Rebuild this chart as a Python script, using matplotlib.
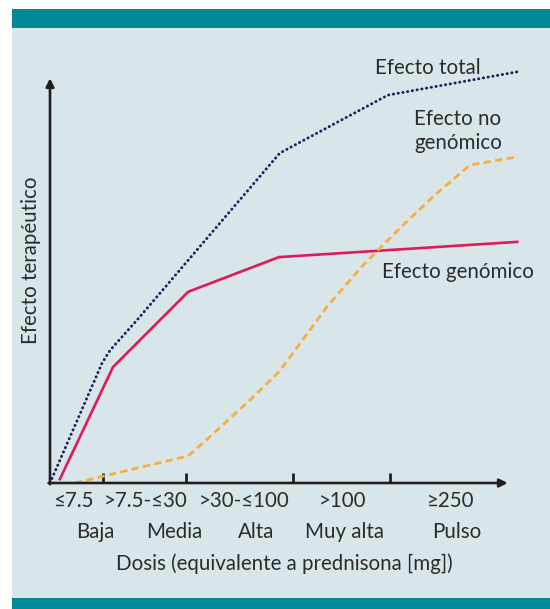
import matplotlib.pyplot as plt
from matplotlib.patches import Rectangle

plt.rcParams['font.family'] = ['Lato', 'DejaVu Sans']

# eje x: escala relativa de dosis (0-100), eje y: efecto terapéutico (0-100)
total_x = [0, 11.1, 12.8, 18.5, 48.9, 71.9, 99.4]
total_y = [0, 28.4, 31.4, 38.5, 78.0, 91.7, 97.2]

genomico_x = [2.1, 13.4, 29.4, 48.7, 99.4]
genomico_y = [0.9, 27.4, 45.2, 53.4, 57.0]

no_genomico_x = [5.3, 29.4, 34.0, 43.2, 48.9, 58.9, 66.6, 74.5, 81.9, 89.4, 99.4]
no_genomico_y = [0, 6.4, 10.9, 20.3, 26.5, 41.6, 51.5, 60.3, 68.1, 75.2, 77.1]

limites = [11.3, 28.9, 51.7, 72.3]
dosis_pos = [4.9, 20.4, 41.3, 62.3, 85.3]
dosis = ['≤7.5', '>7.5-≤30', '>30-≤100', '>100', '≥250']
cat_pos = [9.6, 26.4, 43.8, 62.6, 86.6]
categorias = ['Baja', 'Media', 'Alta', 'Muy alta', 'Pulso']

texto = '#2b2b2b'
fondo = '#d8e6e9'
teal = '#008a98'
fs = 14.8

fig = plt.figure(figsize=(5.5, 6.09), dpi=100, facecolor='white')
W, H = 550, 609
fig.add_artist(Rectangle((12 / W, 0), 1, 1 - 9 / H, transform=fig.transFigure,
                         facecolor=fondo, edgecolor='none', zorder=0))
fig.add_artist(Rectangle((12 / W, 1 - 28 / H), 1, 19 / H, transform=fig.transFigure,
                         facecolor=teal, edgecolor='none', zorder=1))
fig.add_artist(Rectangle((12 / W, 0), 1, 11 / H, transform=fig.transFigure,
                         facecolor=teal, edgecolor='none', zorder=1))

ax = fig.add_axes([50 / W, (H - 483) / H, 470 / W, 423 / H])
ax.patch.set_alpha(0)
ax.set_xlim(0, 100)
ax.set_ylim(0, 100)
for s in ax.spines.values():
    s.set_visible(False)

ax.plot(total_x, total_y, color='#1e1f5e', lw=2.1, linestyle=(0, (0.1, 1.55)),
        dash_capstyle='round', clip_on=False, zorder=3)
ax.plot(genomico_x, genomico_y, color='#de1a5a', lw=1.9, clip_on=False, zorder=3)
ax.plot(no_genomico_x, no_genomico_y, color='#f9ad3b', lw=2.0, linestyle=(0, (2.6, 1.6)),
        clip_on=False, zorder=3)

# ejes con flecha
flecha = dict(arrowstyle='-|>', color='#231f20', lw=1.9, mutation_scale=12, shrinkA=0, shrinkB=0)
ax.annotate('', xy=(0, 95.7), xytext=(0, -0.3), arrowprops=flecha, annotation_clip=False)
ax.annotate('', xy=(97.4, 0), xytext=(-0.3, 0), arrowprops=flecha, annotation_clip=False)

ax.set_xticks(limites)
ax.set_xticklabels([])
ax.set_yticks([])
ax.tick_params(axis='x', direction='in', length=7, width=2, color='#231f20')

for p, t in zip(dosis_pos, dosis):
    ax.text(p, -4.2, t, ha='center', va='center', fontsize=fs, color=texto, clip_on=False)
for p, t in zip(cat_pos, categorias):
    ax.text(p, -11.6, t, ha='center', va='center', fontsize=fs, color=texto, clip_on=False)
ax.text(49.8, -19.0, 'Dosis (equivalente a prednisona [mg])', ha='center', va='center',
        fontsize=fs, color=texto, clip_on=False)
ax.text(-4.1, 52.7, 'Efecto terapéutico', rotation=90, ha='center', va='center',
        fontsize=fs, color=texto, clip_on=False)

ax.text(69.1, 98.1, 'Efecto total', ha='left', va='center', fontsize=fs, color=texto)
ax.text(86.8, 83.2, 'Efecto no\ngenómico', ha='center', va='center', fontsize=fs,
        color=texto, linespacing=1.2)
ax.text(70.6, 49.8, 'Efecto genómico', ha='left', va='center', fontsize=fs, color=texto)

fig.savefig('out.png', dpi=100, facecolor='white')
